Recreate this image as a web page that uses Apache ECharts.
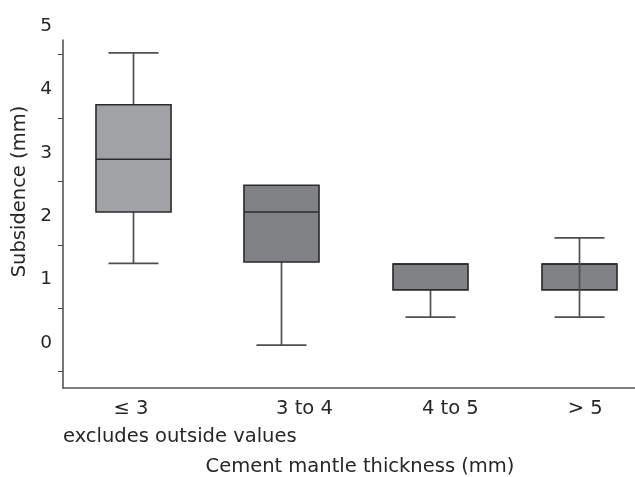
<!DOCTYPE html>
<html><head><meta charset="utf-8">
<script src="https://cdn.jsdelivr.net/npm/echarts@6/dist/echarts.min.js"></script>
<style>html,body{margin:0;padding:0;background:#fff}#c{width:635px;height:477px}</style>
</head><body><div id="c"></div>
<script>
// ---- data ----
const categories = ['≤ 3', '3 to 4', '4 to 5', '> 5'];
const whiskerLow  = [1.21, -0.08, 0.36, 0.36];
const quartile1   = [2.02, 1.23, 0.79, 0.79];
const medianVal   = [2.85, 2.02, 1.20, 1.20];
const quartile3   = [3.71, 2.44, 1.20, 1.20];
const whiskerHigh = [4.53, 2.44, 1.20, 1.61];
const yTickLabels = [0, 1, 2, 3, 4, 5];
const yTickMarks  = [-0.5, 0.5, 1.5, 2.5, 3.5, 4.5];

// ---- styles / layout ----
const boxFill = ['#a1a2a5', '#818285', '#818285', '#818285'];
const whiskerThroughBox = [false, false, false, true];
const labelShift = [-0.01, 0.155, 0.135, 0.04];
const FONT = '"DejaVu Sans", sans-serif';
const TXT = '#262626';

const seriesData = categories.map((c, i) =>
  [i, whiskerLow[i], quartile1[i], medianVal[i], quartile3[i], whiskerHigh[i]]);

function renderItem(params, api) {
  const i = params.dataIndex;
  const x = api.value(0);
  const p = k => api.coord([x, api.value(k)]);
  const lo = p(1), q1 = p(2), md = p(3), q3 = p(4), hi = p(5);
  const bw = api.size([0.504, 0])[0];
  const cw = api.size([0.336, 0])[0];
  const cx = Math.round(lo[0]) + 0.5;
  const wStyle = { stroke: '#4f4f4f', lineWidth: 1.7 };
  const bStyle = { stroke: '#2a2a2a', lineWidth: 1.6 };
  const children = [];
  const vline = (y1, y2) => ({ type: 'line', shape: { x1: cx, y1: y1, x2: cx, y2: y2 }, style: wStyle });
  if (!whiskerThroughBox[i]) {
    if (api.value(1) < api.value(2)) children.push(vline(lo[1], q1[1]));
    if (api.value(5) > api.value(4)) children.push(vline(q3[1], hi[1]));
  }
  children.push({ type: 'rect', shape: { x: cx - bw / 2, y: q3[1], width: bw, height: q1[1] - q3[1] },
    style: Object.assign({ fill: boxFill[i] }, bStyle) });
  children.push({ type: 'line', shape: { x1: cx - bw / 2, y1: md[1], x2: cx + bw / 2, y2: md[1] }, style: bStyle });
  if (whiskerThroughBox[i]) children.push(vline(lo[1], hi[1]));
  if (api.value(1) < api.value(2))
    children.push({ type: 'line', shape: { x1: cx - cw / 2, y1: lo[1], x2: cx + cw / 2, y2: lo[1] }, style: wStyle });
  if (api.value(5) > api.value(4))
    children.push({ type: 'line', shape: { x1: cx - cw / 2, y1: hi[1], x2: cx + cw / 2, y2: hi[1] }, style: wStyle });
  return { type: 'group', children: children };
}

const chart = echarts.init(document.getElementById('c'), null, { renderer: 'canvas' });
chart.setOption({
  animation: false,
  backgroundColor: '#fff',
  grid: [
    { left: 63, right: 0, top: 40, bottom: 89 },
    { left: 63, right: 0, top: 26, bottom: 86 }
  ],
  xAxis: [
    {
      gridIndex: 0, type: 'value', min: -0.467, max: 3.375,
      axisLine: { show: true, onZero: false, lineStyle: { color: '#555', width: 1.6 } },
      axisTick: { show: false },
      splitLine: { show: false },
      axisLabel: {
        customValues: categories.map((c, i) => i + labelShift[i]),
        formatter: v => categories[Math.round(v)],
        fontFamily: FONT, fontSize: 19.5, color: TXT, margin: 11
      }
    },
    { gridIndex: 1, type: 'value', min: -0.467, max: 3.375, show: false }
  ],
  yAxis: [
    {
      gridIndex: 0, type: 'value', min: -0.757, max: 4.732,
      axisLine: { show: true, onZero: false, lineStyle: { color: '#555', width: 1.6 } },
      axisTick: { show: true, customValues: yTickMarks, length: 5, lineStyle: { color: '#444', width: 1 } },
      axisLabel: { show: false },
      splitLine: { show: false }
    },
    {
      gridIndex: 1, type: 'value', min: -0.757, max: 5,
      axisLine: { show: false }, axisTick: { show: false }, splitLine: { show: false },
      axisLabel: { customValues: yTickLabels, fontFamily: FONT, fontSize: 18.5, color: TXT, margin: 11 }
    }
  ],
  series: [{
    type: 'custom', xAxisIndex: 0, yAxisIndex: 0,
    renderItem: renderItem,
    encode: { x: 0, y: [1, 2, 3, 4, 5] },
    data: seriesData,
    clip: false
  }],
  graphic: [
    { type: 'text', x: 20, y: 191.5, rotation: Math.PI / 2,
      style: { text: 'Subsidence (mm)', font: '19.5px ' + FONT, fill: TXT, textAlign: 'center', textVerticalAlign: 'middle' } },
    { type: 'text', x: 63, y: 437,
      style: { text: 'excludes outside values', font: '19.5px ' + FONT, fill: TXT, textAlign: 'left', textVerticalAlign: 'middle' } },
    { type: 'text', x: 360, y: 467,
      style: { text: 'Cement mantle thickness (mm)', font: '19.5px ' + FONT, fill: TXT, textAlign: 'center', textVerticalAlign: 'middle' } }
  ]
});
</script>
</body></html>
